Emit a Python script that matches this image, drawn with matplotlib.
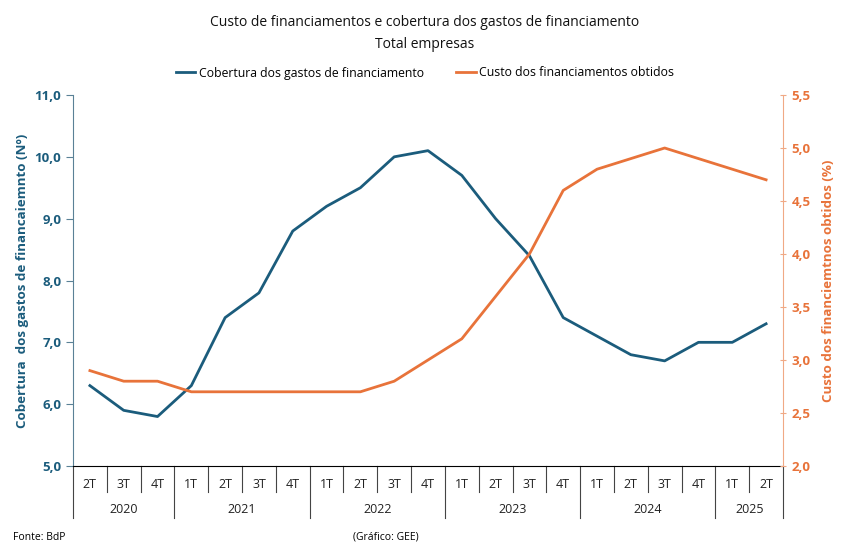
import matplotlib
matplotlib.use("Agg")
import matplotlib.pyplot as plt
from matplotlib.transforms import blended_transform_factory
from matplotlib.ticker import FuncFormatter

years = ["2020", "2021", "2022", "2023", "2024", "2025"]
quarters_per_year = [["2T", "3T", "4T"], ["1T", "2T", "3T", "4T"], ["1T", "2T", "3T", "4T"],
                     ["1T", "2T", "3T", "4T"], ["1T", "2T", "3T", "4T"], ["1T", "2T"]]
cobertura = [6.3, 5.9, 5.8, 6.3, 7.4, 7.8, 8.8, 9.2, 9.5, 10.0, 10.1,
             9.7, 9.0, 8.4, 7.4, 7.1, 6.8, 6.7, 7.0, 7.0, 7.3]
custo = [2.9, 2.8, 2.8, 2.7, 2.7, 2.7, 2.7, 2.7, 2.7, 2.8, 3.0,
         3.2, 3.6, 4.0, 4.6, 4.8, 4.9, 5.0, 4.9, 4.8, 4.7]

BLUE = "#1B5C7C"
ORANGE = "#E8733A"
plt.rcParams['font.family'] = ['Open Sans', 'DejaVu Sans']

fig = plt.figure(figsize=(8.5, 5.59), dpi=100)
ax = fig.add_axes([73/850, 1-466/559, (783-73)/850, (466-95)/559])
ax2 = ax.twinx()

n = len(cobertura)
x = list(range(n))
l1, = ax.plot(x, cobertura, color=BLUE, lw=2, label="Cobertura dos gastos de financiamento")
l2, = ax2.plot(x, custo, color=ORANGE, lw=2, label="Custo dos financiamentos obtidos")

ax.set_xlim(-0.5, n - 0.5)
ax.set_ylim(5, 11)
ax2.set_ylim(2, 5.5)
ax.set_yticks([5, 6, 7, 8, 9, 10, 11])
ax2.set_yticks([2, 2.5, 3, 3.5, 4, 4.5, 5, 5.5])
fmt = FuncFormatter(lambda v, p: f"{v:.1f}".replace(".", ","))
ax.yaxis.set_major_formatter(fmt)
ax2.yaxis.set_major_formatter(fmt)
ax.set_xticks([])

for a in (ax, ax2):
    a.spines['top'].set_visible(False)
ax.spines['right'].set_visible(False)
ax2.spines['left'].set_visible(False)
ax.spines['left'].set_color("#5A8196")
ax2.spines['right'].set_color("#F0A985")
ax.spines['bottom'].set_color("black")
ax2.spines['bottom'].set_visible(False)

ax.tick_params(axis='y', colors="#5A8196", length=5, labelcolor=BLUE, labelsize=9.5)
ax2.tick_params(axis='y', colors="#F0A985", length=5, direction='inout', labelcolor=ORANGE, labelsize=9.5)
for t in ax.get_yticklabels():
    t.set_fontweight('bold')
for t in ax2.get_yticklabels():
    t.set_fontweight('bold')

ax.set_ylabel("Cobertura  dos gastos de financaiemnto (Nº)", color=BLUE, fontsize=9.6,
              fontweight='bold', labelpad=4)
ax2.set_ylabel("Custo dos financiemtnos obtidos (%)", color=ORANGE, fontsize=9.6,
               fontweight='bold', labelpad=8)

# category axis
trans = blended_transform_factory(ax.transData, ax.transAxes)
qfont = dict(family=['Liberation Sans Narrow', 'Open Sans', 'DejaVu Sans'], fontsize=9, color="#222222")
i = 0
ax.plot([-0.5, -0.5], [0, -0.14], transform=trans, color="#444444", lw=0.8, clip_on=False)
for y, qs in zip(years, quarters_per_year):
    start = i
    for q in qs:
        ax.text(i, -0.05, q, transform=trans, ha='center', va='center', **qfont)
        i += 1
        if i < start + len(qs):
            ax.plot([i - 0.5, i - 0.5], [0, -0.07], transform=trans, color="#444444", lw=0.8, clip_on=False)
    ax.plot([i - 0.5, i - 0.5], [0, -0.14], transform=trans, color="#444444", lw=0.8, clip_on=False)
    ax.text((start + i - 1) / 2, -0.116, y, transform=trans, ha='center', va='center', **qfont)

fig.text(0.5, 1-23/559, "Custo de financiamentos e cobertura dos gastos de financiamento",
         ha='center', va='center', fontsize=10, color="#111111")
fig.text(0.5, 1-44/559, "Total empresas", ha='center', va='center', fontsize=10, color="#111111")
fig.legend(handles=[l1, l2], loc='center', bbox_to_anchor=(0.5, 1-73/559), ncol=2,
           frameon=False, fontsize=8.8, handlelength=1.6, columnspacing=2.6, handletextpad=0.3)

fig.text(13/850, 1-537/559, "Fonte: BdP", ha='left', va='center', fontsize=7.5,
         family=['Liberation Sans Narrow', 'Open Sans', 'DejaVu Sans'])
fig.text(386/850, 1-537/559, "(Gráfico: GEE)", ha='center', va='center', fontsize=7.5,
         family=['Liberation Sans Narrow', 'Open Sans', 'DejaVu Sans'])

fig.savefig("out.png", dpi=100)
